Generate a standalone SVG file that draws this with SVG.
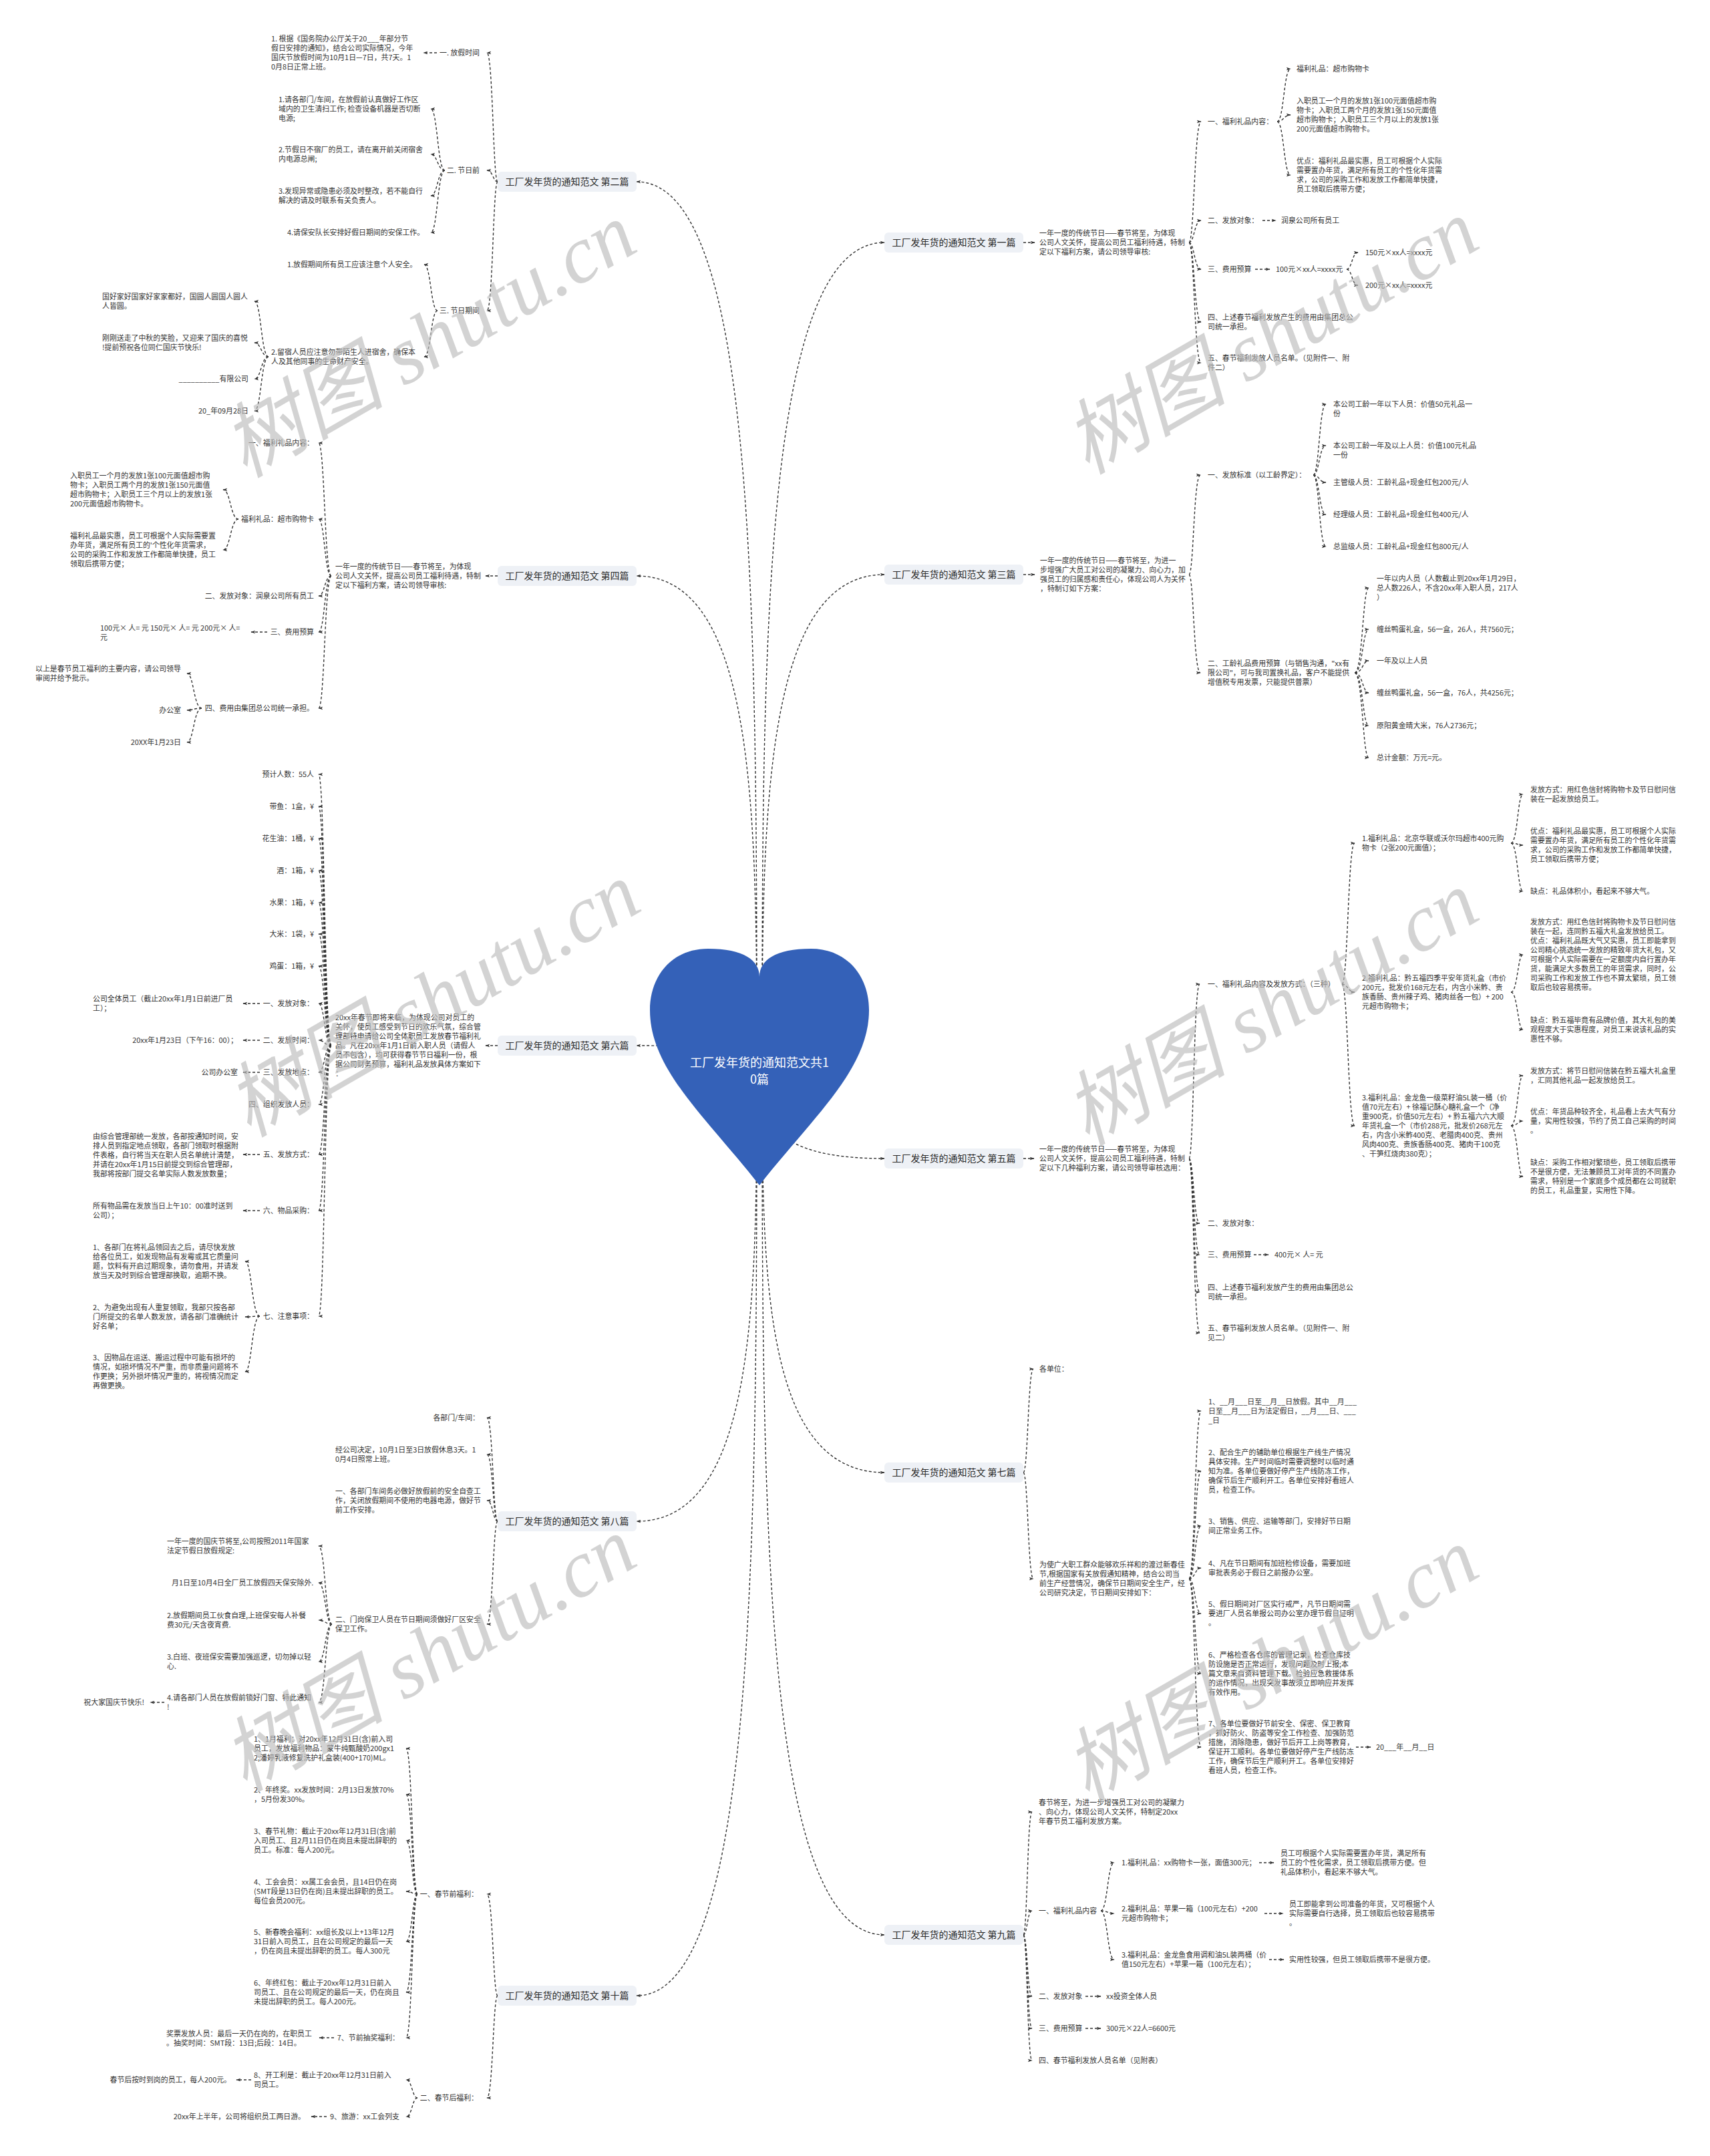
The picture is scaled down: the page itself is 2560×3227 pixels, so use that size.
<svg xmlns="http://www.w3.org/2000/svg" width="2560" height="3227" viewBox="0 0 2560 3227">
<style>
text{font-family:"Noto Sans CJK SC","Noto Sans",sans-serif;font-size:10.9px;fill:#333}
.e{text-anchor:end}
.h{font-size:14px;text-anchor:middle;fill:#2b2b2b}
.b{fill:#eef1f6}
.c{fill:none;stroke:#333;stroke-width:1.4;stroke-dasharray:4 3;marker-end:url(#a)}
.ht{font-size:18px;fill:#fff;text-anchor:middle}
.wm{font-family:"Liberation Serif","Noto Sans CJK SC",serif;font-style:italic;font-size:122px;fill:#bdbdbd;opacity:.65;text-anchor:middle}
</style>
<defs>
<marker id="a" viewBox="0 0 10 10" refX="9" refY="5" markerWidth="7" markerHeight="7" markerUnits="userSpaceOnUse" orient="auto"><path d="M0,1.5 L10,5 L0,8.5 L2.5,5 z" fill="#333"/></marker>
</defs>
<rect width="2560" height="3227" fill="#fff"/>
<g id="connectors">
<path class="c" d="M1133 1599C1133 935 1133 272 953 272"/>
<path class="c" d="M1133 1599C1133 1230 1133 862 953 862"/>
<path class="c" d="M1133 1599C1133 1582 1133 1565 953 1565"/>
<path class="c" d="M1133 1599C1133 1938 1133 2277 953 2277"/>
<path class="c" d="M1133 1599C1133 2293 1133 2987 953 2987"/>
<path class="c" d="M1141 1599C1141 981 1141 363 1324 363"/>
<path class="c" d="M1141 1599C1141 1230 1141 860 1324 860"/>
<path class="c" d="M1141 1599C1141 1666 1141 1734 1324 1734"/>
<path class="c" d="M1141 1599C1141 1901 1141 2204 1324 2204"/>
<path class="c" d="M1141 1599C1141 2247 1141 2896 1324 2896"/>
<path class="c" d="M745 272C738 272 738 79 729 79"/>
<path class="c" d="M745 272C738 272 738 255 729 255"/>
<path class="c" d="M745 272C738 272 738 465 729 465"/>
<path class="c" d="M654 79L634 79"/>
<path class="c" d="M666 255C655 255 655 163 645 163"/>
<path class="c" d="M666 255C655 255 655 231 645 231"/>
<path class="c" d="M666 255C655 255 655 293 645 293"/>
<path class="c" d="M666 255C655 255 655 348 645 348"/>
<path class="c" d="M655 465C645 465 645 396 635 396"/>
<path class="c" d="M655 465C645 465 645 534 635 534"/>
<path class="c" d="M402 534C391 534 391 451 381 451"/>
<path class="c" d="M402 534C391 534 391 513 381 513"/>
<path class="c" d="M402 534C391 534 391 567 381 567"/>
<path class="c" d="M402 534C391 534 391 615 381 615"/>
<path class="c" d="M745 862L727 862"/>
<path class="c" d="M496 862C486 862 486 663 477 663"/>
<path class="c" d="M496 862C486 862 486 777 477 777"/>
<path class="c" d="M496 862C486 862 486 892 477 892"/>
<path class="c" d="M496 862C486 862 486 946 477 946"/>
<path class="c" d="M496 862C486 862 486 1060 477 1060"/>
<path class="c" d="M357 777C345 777 345 733 334 733"/>
<path class="c" d="M357 777C345 777 345 823 334 823"/>
<path class="c" d="M400 946L376 946"/>
<path class="c" d="M302 1060C290 1060 290 1008 280 1008"/>
<path class="c" d="M302 1060C290 1060 290 1063 280 1063"/>
<path class="c" d="M302 1060C290 1060 290 1111 280 1111"/>
<path class="c" d="M745 1565L727 1565"/>
<path class="c" d="M496 1565C486 1565 486 1159 477 1159"/>
<path class="c" d="M496 1565C486 1565 486 1207 477 1207"/>
<path class="c" d="M496 1565C486 1565 486 1255 477 1255"/>
<path class="c" d="M496 1565C486 1565 486 1303 477 1303"/>
<path class="c" d="M496 1565C486 1565 486 1351 477 1351"/>
<path class="c" d="M496 1565C486 1565 486 1398 477 1398"/>
<path class="c" d="M496 1565C486 1565 486 1446 477 1446"/>
<path class="c" d="M496 1565C486 1565 486 1502 477 1502"/>
<path class="c" d="M496 1565C486 1565 486 1557 477 1557"/>
<path class="c" d="M496 1565C486 1565 486 1605 477 1605"/>
<path class="c" d="M496 1565C486 1565 486 1653 477 1653"/>
<path class="c" d="M496 1565C486 1565 486 1728 477 1728"/>
<path class="c" d="M496 1565C486 1565 486 1812 477 1812"/>
<path class="c" d="M496 1565C486 1565 486 1970 477 1970"/>
<path class="c" d="M389 1502L364 1502"/>
<path class="c" d="M389 1557L364 1557"/>
<path class="c" d="M389 1605L364 1605"/>
<path class="c" d="M389 1728L364 1728"/>
<path class="c" d="M389 1812L364 1812"/>
<path class="c" d="M389 1970C377 1970 377 1888 367 1888"/>
<path class="c" d="M389 1970C377 1970 377 1971 367 1971"/>
<path class="c" d="M389 1970C377 1970 377 2053 367 2053"/>
<path class="c" d="M745 2277C738 2277 738 2122 729 2122"/>
<path class="c" d="M745 2277C738 2277 738 2177 729 2177"/>
<path class="c" d="M745 2277C738 2277 738 2246 729 2246"/>
<path class="c" d="M745 2277C738 2277 738 2431 729 2431"/>
<path class="c" d="M497 2431C487 2431 487 2314 477 2314"/>
<path class="c" d="M497 2431C487 2431 487 2369 477 2369"/>
<path class="c" d="M497 2431C487 2431 487 2425 477 2425"/>
<path class="c" d="M497 2431C487 2431 487 2487 477 2487"/>
<path class="c" d="M497 2431C487 2431 487 2548 477 2548"/>
<path class="c" d="M246 2548L225 2548"/>
<path class="c" d="M745 2987C738 2987 738 2835 729 2835"/>
<path class="c" d="M745 2987C738 2987 738 3140 729 3140"/>
<path class="c" d="M625 2835C617 2835 617 2617 608 2617"/>
<path class="c" d="M625 2835C617 2835 617 2686 608 2686"/>
<path class="c" d="M625 2835C617 2835 617 2755 608 2755"/>
<path class="c" d="M625 2835C617 2835 617 2831 608 2831"/>
<path class="c" d="M625 2835C617 2835 617 2906 608 2906"/>
<path class="c" d="M625 2835C617 2835 617 2982 608 2982"/>
<path class="c" d="M625 2835C617 2835 617 3050 608 3050"/>
<path class="c" d="M500 3050L478 3050"/>
<path class="c" d="M625 3140C617 3140 617 3113 608 3113"/>
<path class="c" d="M625 3140C617 3140 617 3168 608 3168"/>
<path class="c" d="M376 3113L354 3113"/>
<path class="c" d="M489 3168L466 3168"/>
<path class="c" d="M1532 363L1549 363"/>
<path class="c" d="M1780 363C1788 363 1788 182 1798 182"/>
<path class="c" d="M1780 363C1788 363 1788 330 1798 330"/>
<path class="c" d="M1780 363C1788 363 1788 403 1798 403"/>
<path class="c" d="M1780 363C1788 363 1788 482 1798 482"/>
<path class="c" d="M1780 363C1788 363 1788 543 1798 543"/>
<path class="c" d="M1912 182C1922 182 1922 103 1932 103"/>
<path class="c" d="M1912 182C1922 182 1922 172 1932 172"/>
<path class="c" d="M1912 182C1922 182 1922 262 1932 262"/>
<path class="c" d="M1890 330L1910 330"/>
<path class="c" d="M1879 403L1901 403"/>
<path class="c" d="M2016 403C2024 403 2024 378 2033 378"/>
<path class="c" d="M2016 403C2024 403 2024 427 2033 427"/>
<path class="c" d="M1532 860L1549 860"/>
<path class="c" d="M1780 860C1787 860 1787 711 1797 711"/>
<path class="c" d="M1780 860C1787 860 1787 1007 1797 1007"/>
<path class="c" d="M1966 711C1975 711 1975 605 1985 605"/>
<path class="c" d="M1966 711C1975 711 1975 667 1985 667"/>
<path class="c" d="M1966 711C1975 711 1975 722 1985 722"/>
<path class="c" d="M1966 711C1975 711 1975 770 1985 770"/>
<path class="c" d="M1966 711C1975 711 1975 818 1985 818"/>
<path class="c" d="M2028 1007C2040 1007 2040 880 2049 880"/>
<path class="c" d="M2028 1007C2040 1007 2040 942 2049 942"/>
<path class="c" d="M2028 1007C2040 1007 2040 989 2049 989"/>
<path class="c" d="M2028 1007C2040 1007 2040 1037 2049 1037"/>
<path class="c" d="M2028 1007C2040 1007 2040 1086 2049 1086"/>
<path class="c" d="M2028 1007C2040 1007 2040 1134 2049 1134"/>
<path class="c" d="M1532 1734L1548 1734"/>
<path class="c" d="M1780 1734C1787 1734 1787 1473 1796 1473"/>
<path class="c" d="M1780 1734C1787 1734 1787 1831 1796 1831"/>
<path class="c" d="M1780 1734C1787 1734 1787 1878 1796 1878"/>
<path class="c" d="M1780 1734C1787 1734 1787 1934 1796 1934"/>
<path class="c" d="M1780 1734C1787 1734 1787 1995 1796 1995"/>
<path class="c" d="M1877 1878L1899 1878"/>
<path class="c" d="M2009 1473C2018 1473 2018 1262 2028 1262"/>
<path class="c" d="M2009 1473C2018 1473 2018 1485 2028 1485"/>
<path class="c" d="M2009 1473C2018 1473 2018 1685 2028 1685"/>
<path class="c" d="M2262 1262C2272 1262 2272 1189 2280 1189"/>
<path class="c" d="M2262 1262C2272 1262 2272 1265 2280 1265"/>
<path class="c" d="M2262 1262C2272 1262 2272 1334 2280 1334"/>
<path class="c" d="M2262 1485C2272 1485 2272 1429 2280 1429"/>
<path class="c" d="M2262 1485C2272 1485 2272 1541 2280 1541"/>
<path class="c" d="M2262 1685C2272 1685 2272 1610 2280 1610"/>
<path class="c" d="M2262 1685C2272 1685 2272 1678 2280 1678"/>
<path class="c" d="M2262 1685C2272 1685 2272 1761 2280 1761"/>
<path class="c" d="M1532 2204C1539 2204 1539 2049 1547 2049"/>
<path class="c" d="M1532 2204C1539 2204 1539 2363 1547 2363"/>
<path class="c" d="M1780 2363C1789 2363 1789 2112 1798 2112"/>
<path class="c" d="M1780 2363C1789 2363 1789 2202 1798 2202"/>
<path class="c" d="M1780 2363C1789 2363 1789 2284 1798 2284"/>
<path class="c" d="M1780 2363C1789 2363 1789 2347 1798 2347"/>
<path class="c" d="M1780 2363C1789 2363 1789 2415 1798 2415"/>
<path class="c" d="M1780 2363C1789 2363 1789 2505 1798 2505"/>
<path class="c" d="M1780 2363C1789 2363 1789 2615 1798 2615"/>
<path class="c" d="M2030 2615L2052 2615"/>
<path class="c" d="M1532 2896C1538 2896 1538 2712 1545 2712"/>
<path class="c" d="M1532 2896C1538 2896 1538 2860 1545 2860"/>
<path class="c" d="M1532 2896C1538 2896 1538 2988 1545 2988"/>
<path class="c" d="M1532 2896C1538 2896 1538 3036 1545 3036"/>
<path class="c" d="M1532 2896C1538 2896 1538 3084 1545 3084"/>
<path class="c" d="M1648 2860C1658 2860 1658 2788 1668 2788"/>
<path class="c" d="M1648 2860C1658 2860 1658 2864 1668 2864"/>
<path class="c" d="M1648 2860C1658 2860 1658 2933 1668 2933"/>
<path class="c" d="M1885 2788L1907 2788"/>
<path class="c" d="M1893 2864L1921 2864"/>
<path class="c" d="M1900 2933L1922 2933"/>
<path class="c" d="M1625 2988L1648 2988"/>
<path class="c" d="M1625 3036L1648 3036"/>
</g>
<g id="root">
<path d="M1137 1462C1137 1437 1113 1420 1060 1420C1005 1420 973 1462 973 1512C973 1600 1055 1670 1137 1774C1219 1670 1301 1600 1301 1512C1301 1462 1269 1420 1214 1420C1161 1420 1137 1437 1137 1462Z" fill="#3461b8"/>
<text class="ht"><tspan x="1137" y="1597">工厂发年货的通知范文共1</tspan><tspan x="1137" y="1622">0篇</tspan></text>
</g>
<g id="n2">
<rect class="b" x="745" y="257" width="208" height="30" rx="6"/>
<text class="h" x="849" y="277">工厂发年货的通知范文 第二篇</text>
<text class="e" x="718" y="83">一. 放假时间</text>
<text><tspan x="406" y="62">1. 根据《国务院办公厅关于20___年部分节</tspan><tspan x="406" y="76">假日安排的通知》，结合公司实际情况，今年</tspan><tspan x="406" y="90">国庆节放假时间为10月1日—7日，共7天。1</tspan><tspan x="406" y="104">0月8日正常上班。</tspan></text>
<text class="e" x="718" y="259">二. 节日前</text>
<text><tspan x="417" y="153">1.请各部门/车间，在放假前认真做好工作区</tspan><tspan x="417" y="167">域内的卫生清扫工作; 检查设备机器是否切断</tspan><tspan x="417" y="181">电源;</tspan></text>
<text><tspan x="417" y="228">2.节假日不宿厂的员工，请在离开前关闭宿舍</tspan><tspan x="417" y="242">内电源总闸;</tspan></text>
<text><tspan x="417" y="290">3.发现异常或隐患必须及时整改，若不能自行</tspan><tspan x="417" y="304">解决的请及时联系有关负责人。</tspan></text>
<text x="430" y="352">4.请保安队长安排好假日期间的安保工作。</text>
<text class="e" x="718" y="469">三. 节日期间</text>
<text x="430" y="400">1.放假期间所有员工应该注意个人安全。</text>
<text><tspan x="406" y="531">2.留宿人员应注意勿带陌生人进宿舍，确保本</tspan><tspan x="406" y="545">人及其他同事的生命财产安全。</tspan></text>
<text><tspan x="153" y="448">国好家好国家好家家都好，国圆人圆国人圆人</tspan><tspan x="153" y="462">人皆圆。</tspan></text>
<text><tspan x="153" y="510">刚刚送走了中秋的笑脸，又迎来了国庆的喜悦</tspan><tspan x="153" y="524">!提前预祝各位同仁国庆节快乐!</tspan></text>
<text class="e" x="372" y="571">__________有限公司</text>
<text class="e" x="372" y="619">20_年09月28日</text>
</g>
<g id="n4">
<rect class="b" x="745" y="847" width="208" height="30" rx="6"/>
<text class="h" x="849" y="867">工厂发年货的通知范文 第四篇</text>
<text><tspan x="502" y="852">一年一度的传统节日——春节将至，为体现</tspan><tspan x="502" y="866">公司人文关怀，提高公司员工福利待遇，特制</tspan><tspan x="502" y="880">定以下福利方案，请公司领导审核:</tspan></text>
<text class="e" x="470" y="667">一、福利礼品内容：</text>
<text class="e" x="470" y="781">福利礼品：超市购物卡</text>
<text class="e" x="470" y="896">二、发放对象：润泉公司所有员工</text>
<text class="e" x="470" y="950">三、费用预算</text>
<text class="e" x="470" y="1064">四、费用由集团总公司统一承担。</text>
<text><tspan x="105" y="716">入职员工一个月的发放1张100元面值超市购</tspan><tspan x="105" y="730">物卡；入职员工两个月的发放1张150元面值</tspan><tspan x="105" y="744">超市购物卡；入职员工三个月以上的发放1张</tspan><tspan x="105" y="758">200元面值超市购物卡。</tspan></text>
<text><tspan x="105" y="806">福利礼品最实惠，员工可根据个人实际需要置</tspan><tspan x="105" y="820">办年货，满足所有员工的'个性化年货需求，</tspan><tspan x="105" y="834">公司的采购工作和发放工作都简单快捷，员工</tspan><tspan x="105" y="848">领取后携带方便；</tspan></text>
<text><tspan x="150" y="944">100元× 人= 元 150元× 人= 元 200元× 人=</tspan><tspan x="150" y="958">元</tspan></text>
<text><tspan x="53" y="1005">以上是春节员工福利的主要内容，请公司领导</tspan><tspan x="53" y="1019">审阅并给予批示。</tspan></text>
<text class="e" x="271" y="1067">办公室</text>
<text class="e" x="271" y="1115">20XX年1月23日</text>
</g>
<g id="n6">
<rect class="b" x="745" y="1550" width="208" height="30" rx="6"/>
<text class="h" x="849" y="1570">工厂发年货的通知范文 第六篇</text>
<text><tspan x="502" y="1527">20xx年春节即将来临，为体现公司对员工的</tspan><tspan x="502" y="1541">关怀，使员工感受到节日的欢乐气氛，综合管</tspan><tspan x="502" y="1555">理部特申请给公司全体职员工发放春节福利礼</tspan><tspan x="502" y="1569">品。凡在20xx年1月1日前入职人员（请假人</tspan><tspan x="502" y="1583">员不包含），均可获得春节节日福利一份，根</tspan><tspan x="502" y="1597">据公司财务预算，福利礼品发放具体方案如下</tspan><tspan x="502" y="1611">：</tspan></text>
<text class="e" x="470" y="1163">预计人数：55人</text>
<text class="e" x="470" y="1211">带鱼：1盒，¥</text>
<text class="e" x="470" y="1259">花生油：1桶，¥</text>
<text class="e" x="470" y="1307">酒：1箱，¥</text>
<text class="e" x="470" y="1355">水果：1箱，¥</text>
<text class="e" x="470" y="1402">大米：1袋，¥</text>
<text class="e" x="470" y="1450">鸡蛋：1箱，¥</text>
<text class="e" x="470" y="1506">一、发放对象：</text>
<text class="e" x="470" y="1561">二、发放时间：</text>
<text class="e" x="470" y="1609">三、发放地点：</text>
<text class="e" x="470" y="1657">四、组织发放人员：</text>
<text class="e" x="470" y="1732">五、发放方式：</text>
<text class="e" x="470" y="1816">六、物品采购：</text>
<text class="e" x="470" y="1974">七、注意事项：</text>
<text><tspan x="139" y="1499">公司全体员工（截止20xx年1月1日前进厂员</tspan><tspan x="139" y="1513">工）；</tspan></text>
<text class="e" x="356" y="1561">20xx年1月23日（下午16：00）；</text>
<text class="e" x="356" y="1609">公司办公室</text>
<text><tspan x="139" y="1705">由综合管理部统一发放，各部按通知时间，安</tspan><tspan x="139" y="1719">排人员到指定地点领取，各部门领取时根据附</tspan><tspan x="139" y="1733">件表格，自行将当天在职人员名单统计清楚，</tspan><tspan x="139" y="1747">并请在20xx年1月15日前提交到综合管理部，</tspan><tspan x="139" y="1761">我部将按部门提交名单实际人数发放数量；</tspan></text>
<text><tspan x="139" y="1809">所有物品需在发放当日上午10：00准时送到</tspan><tspan x="139" y="1823">公司）；</tspan></text>
<text><tspan x="139" y="1871">1、各部门在将礼品领回去之后，请尽快发放</tspan><tspan x="139" y="1885">给各位员工，如发现物品有发霉或其它质量问</tspan><tspan x="139" y="1899">题，饮料有开启过期现象，请勿食用，并请发</tspan><tspan x="139" y="1913">放当天及时到综合管理部换取，逾期不换。</tspan></text>
<text><tspan x="139" y="1961">2、为避免出现有人重复领取，我部只按各部</tspan><tspan x="139" y="1975">门所提交的名单人数发放，请各部门准确统计</tspan><tspan x="139" y="1989">好名单；</tspan></text>
<text><tspan x="139" y="2036">3、因物品在运送、搬运过程中可能有损坏的</tspan><tspan x="139" y="2050">情况，如损坏情况不严重，而非质量问题将不</tspan><tspan x="139" y="2064">作更换；另外损坏情况严重的，将视情况而定</tspan><tspan x="139" y="2078">再做更换。</tspan></text>
</g>
<g id="n8">
<rect class="b" x="745" y="2262" width="208" height="30" rx="6"/>
<text class="h" x="849" y="2282">工厂发年货的通知范文 第八篇</text>
<text class="e" x="718" y="2126">各部门/车间：</text>
<text><tspan x="502" y="2174">经公司决定，10月1日至3日放假休息3天。1</tspan><tspan x="502" y="2188">0月4日照常上班。</tspan></text>
<text><tspan x="502" y="2236">一、各部门车间务必做好放假前的安全自查工</tspan><tspan x="502" y="2250">作，关闭放假期间不使用的电器电源，做好节</tspan><tspan x="502" y="2264">前工作安排。</tspan></text>
<text><tspan x="502" y="2428">二、门岗保卫人员在节日期间须做好厂区安全</tspan><tspan x="502" y="2442">保卫工作。</tspan></text>
<text><tspan x="250" y="2311">一年一度的国庆节将至,公司按照2011年国家</tspan><tspan x="250" y="2325">法定节假日放假规定:</tspan></text>
<text x="257" y="2373">月1日至10月4日全厂员工放假四天保安除外.</text>
<text><tspan x="250" y="2422">2.放假期间员工伙食自理,上班保安每人补餐</tspan><tspan x="250" y="2436">费30元/天含夜宵费.</tspan></text>
<text><tspan x="250" y="2484">3.白班、夜班保安需要加强巡逻，切勿掉以轻</tspan><tspan x="250" y="2498">心.</tspan></text>
<text><tspan x="250" y="2545">4.请各部门人员在放假前锁好门窗、特此通知</tspan><tspan x="250" y="2559">!</tspan></text>
<text class="e" x="216" y="2552">祝大家国庆节快乐!</text>
</g>
<g id="n10">
<rect class="b" x="745" y="2972" width="208" height="30" rx="6"/>
<text class="h" x="849" y="2992">工厂发年货的通知范文 第十篇</text>
<text class="e" x="716" y="2839">一、春节前福利：</text>
<text class="e" x="716" y="3144">二、春节后福利：</text>
<text><tspan x="380" y="2607">1、1月福利：对20xx年12月31日(含)前入司</tspan><tspan x="380" y="2621">员工，发放福利物品：蒙牛纯甄酸奶200gx1</tspan><tspan x="380" y="2635">2;潘婷乳液修复洗护礼盒装(400+170)ML。</tspan></text>
<text><tspan x="380" y="2683">2、年终奖。xx发放时间：2月13日发放70%</tspan><tspan x="380" y="2697">，5月份发30%。</tspan></text>
<text><tspan x="380" y="2745">3、春节礼物：截止于20xx年12月31日(含)前</tspan><tspan x="380" y="2759">入司员工、且2月11日仍在岗且未提出辞职的</tspan><tspan x="380" y="2773">员工。标准：每人200元。</tspan></text>
<text><tspan x="380" y="2821">4、工会会员：xx属工会会员，且14日仍在岗</tspan><tspan x="380" y="2835">(SMT段是13日仍在岗)且未提出辞职的员工。</tspan><tspan x="380" y="2849">每位会员200元。</tspan></text>
<text><tspan x="380" y="2896">5、新春晚会福利：xx组长及以上+13年12月</tspan><tspan x="380" y="2910">31日前入司员工，且在公司规定的最后一天</tspan><tspan x="380" y="2924">，仍在岗且未提出辞职的员工。每人300元</tspan></text>
<text><tspan x="380" y="2972">6、年终红包：截止于20xx年12月31日前入</tspan><tspan x="380" y="2986">司员工、且在公司规定的最后一天，仍在岗且</tspan><tspan x="380" y="3000">未提出辞职的员工。每人200元。</tspan></text>
<text class="e" x="598" y="3054">7、节前抽奖福利：</text>
<text><tspan x="249" y="3048">奖票发放人员：最后一天仍在岗的，在职员工</tspan><tspan x="249" y="3062">。抽奖时间：SMT段：13日;后段：14日。</tspan></text>
<text><tspan x="380" y="3110">8、开工利是：截止于20xx年12月31日前入</tspan><tspan x="380" y="3124">司员工。</tspan></text>
<text class="e" x="598" y="3172">9、旅游：xx工会列支</text>
<text class="e" x="346" y="3117">春节后按时到岗的员工，每人200元。</text>
<text class="e" x="457" y="3172">20xx年上半年，公司将组织员工两日游。</text>
</g>
<g id="n1">
<rect class="b" x="1324" y="348" width="208" height="30" rx="6"/>
<text class="h" x="1428" y="368">工厂发年货的通知范文 第一篇</text>
<text><tspan x="1556" y="353">一年一度的传统节日——春节将至，为体现</tspan><tspan x="1556" y="367">公司人文关怀，提高公司员工福利待遇，特制</tspan><tspan x="1556" y="381">定以下福利方案，请公司领导审核:</tspan></text>
<text x="1808" y="186">一、福利礼品内容：</text>
<text x="1808" y="334">二、发放对象：</text>
<text x="1808" y="407">三、费用预算</text>
<text><tspan x="1808" y="479">四、上述春节福利发放产生的费用由集团总公</tspan><tspan x="1808" y="493">司统一承担。</tspan></text>
<text><tspan x="1808" y="540">五、春节福利发放人员名单。（见附件一、附</tspan><tspan x="1808" y="554">件二）</tspan></text>
<text x="1941" y="107">福利礼品：超市购物卡</text>
<text><tspan x="1941" y="155">入职员工一个月的发放1张100元面值超市购</tspan><tspan x="1941" y="169">物卡；入职员工两个月的发放1张150元面值</tspan><tspan x="1941" y="183">超市购物卡；入职员工三个月以上的发放1张</tspan><tspan x="1941" y="197">200元面值超市购物卡。</tspan></text>
<text><tspan x="1941" y="245">优点：福利礼品最实惠，员工可根据个人实际</tspan><tspan x="1941" y="259">需要置办年货，满足所有员工的个性化年货需</tspan><tspan x="1941" y="273">求，公司的采购工作和发放工作都简单快捷，</tspan><tspan x="1941" y="287">员工领取后携带方便；</tspan></text>
<text x="1918" y="334">润泉公司所有员工</text>
<text x="1910" y="407">100元×xx人=xxxx元</text>
<text x="2044" y="382">150元×xx人=xxxx元</text>
<text x="2044" y="431">200元×xx人=xxxx元</text>
</g>
<g id="n3">
<rect class="b" x="1324" y="845" width="208" height="30" rx="6"/>
<text class="h" x="1428" y="865">工厂发年货的通知范文 第三篇</text>
<text><tspan x="1557" y="843">一年一度的传统节日——春节将至，为进一</tspan><tspan x="1557" y="857">步增强广大员工对公司的凝聚力、向心力，加</tspan><tspan x="1557" y="871">强员工的归属感和责任心，体现公司人为关怀</tspan><tspan x="1557" y="885">，特制订如下方案：</tspan></text>
<text x="1808" y="715">一、发放标准（以工龄界定）：</text>
<text><tspan x="1808" y="997">二、工龄礼品费用预算（与销售沟通，"xx有</tspan><tspan x="1808" y="1011">限公司"，可与我司置换礼品，客户不能提供</tspan><tspan x="1808" y="1025">增值税专用发票，只能提供普票）</tspan></text>
<text><tspan x="1996" y="609">本公司工龄一年以下人员：价值50元礼品一</tspan><tspan x="1996" y="623">份</tspan></text>
<text><tspan x="1996" y="671">本公司工龄一年及以上人员：价值100元礼品</tspan><tspan x="1996" y="685">一份</tspan></text>
<text x="1996" y="726">主管级人员：工龄礼品+现金红包200元/人</text>
<text x="1996" y="774">经理级人员：工龄礼品+现金红包400元/人</text>
<text x="1996" y="822">总监级人员：工龄礼品+现金红包800元/人</text>
<text><tspan x="2061" y="870">一年以内人员（人数截止到20xx年1月29日，</tspan><tspan x="2061" y="884">总人数226人，不含20xx年入职人员，217人</tspan><tspan x="2061" y="898">）</tspan></text>
<text x="2061" y="946">缠丝鸭蛋礼盒，56一盒，26人，共7560元；</text>
<text x="2061" y="993">一年及以上人员</text>
<text x="2061" y="1041">缠丝鸭蛋礼盒，56一盒，76人，共4256元；</text>
<text x="2061" y="1090">原阳黄金晴大米，76人2736元；</text>
<text x="2061" y="1138">总计金额：万元=元。</text>
</g>
<g id="n5">
<rect class="b" x="1324" y="1719" width="208" height="30" rx="6"/>
<text class="h" x="1428" y="1739">工厂发年货的通知范文 第五篇</text>
<text><tspan x="1556" y="1724">一年一度的传统节日——春节将至，为体现</tspan><tspan x="1556" y="1738">公司人文关怀，提高公司员工福利待遇，特制</tspan><tspan x="1556" y="1752">定以下几种福利方案，请公司领导审核选用：</tspan></text>
<text x="1808" y="1477">一、福利礼品内容及发放方式：（三种）</text>
<text x="1808" y="1835">二、发放对象：</text>
<text x="1808" y="1882">三、费用预算</text>
<text x="1908" y="1882">400元× 人= 元</text>
<text><tspan x="1808" y="1931">四、上述春节福利发放产生的费用由集团总公</tspan><tspan x="1808" y="1945">司统一承担。</tspan></text>
<text><tspan x="1808" y="1992">五、春节福利发放人员名单。（见附件一、附</tspan><tspan x="1808" y="2006">见二）</tspan></text>
<text><tspan x="2039" y="1259">1.福利礼品：北京华联或沃尔玛超市400元购</tspan><tspan x="2039" y="1273">物卡（2张200元面值）；</tspan></text>
<text><tspan x="2039" y="1468">2.福利礼品：黔五福四季平安年货礼盒（市价</tspan><tspan x="2039" y="1482">200元，批发价168元左右，内含小米鲊、贵</tspan><tspan x="2039" y="1496">族香肠、贵州辣子鸡、猪肉丝各一包）+ 200</tspan><tspan x="2039" y="1510">元超市购物卡；</tspan></text>
<text><tspan x="2039" y="1647">3.福利礼品：金龙鱼一级菜籽油5L装一桶（价</tspan><tspan x="2039" y="1661">值70元左右）+ 徐福记酥心糖礼盒一个（净</tspan><tspan x="2039" y="1675">重900克，价值50元左右）+ 黔五福六六大顺</tspan><tspan x="2039" y="1689">年货礼盒一个（市价288元，批发价268元左</tspan><tspan x="2039" y="1703">右，内含小米鲊400克、老腊肉400克、贵州</tspan><tspan x="2039" y="1717">风肉400克、贵族香肠400克、猪肉干100克</tspan><tspan x="2039" y="1731">、干笋红烧肉380克）；</tspan></text>
<text><tspan x="2291" y="1186">发放方式：用红色信封将购物卡及节日慰问信</tspan><tspan x="2291" y="1200">装在一起发放给员工。</tspan></text>
<text><tspan x="2291" y="1248">优点：福利礼品最实惠，员工可根据个人实际</tspan><tspan x="2291" y="1262">需要置办年货，满足所有员工的个性化年货需</tspan><tspan x="2291" y="1276">求，公司的采购工作和发放工作都简单快捷，</tspan><tspan x="2291" y="1290">员工领取后携带方便；</tspan></text>
<text x="2291" y="1338">缺点：礼品体积小，看起来不够大气。</text>
<text><tspan x="2291" y="1384">发放方式：用红色信封将购物卡及节日慰问信</tspan><tspan x="2291" y="1398">装在一起，连同黔五福大礼盒发放给员工。</tspan><tspan x="2291" y="1412">优点：福利礼品既大气又实惠，员工即能拿到</tspan><tspan x="2291" y="1426">公司精心挑选统一发放的精致年货大礼包，又</tspan><tspan x="2291" y="1440">可根据个人实际需要在一定额度内自行置办年</tspan><tspan x="2291" y="1454">货，能满足大多数员工的年货需求，同时，公</tspan><tspan x="2291" y="1468">司采购工作和发放工作也不算太繁琐，员工领</tspan><tspan x="2291" y="1482">取后也较容易携带。</tspan></text>
<text><tspan x="2291" y="1531">缺点：黔五福毕竟有品牌价值，其大礼包的美</tspan><tspan x="2291" y="1545">观程度大于实惠程度，对员工来说该礼品的实</tspan><tspan x="2291" y="1559">惠性不够。</tspan></text>
<text><tspan x="2291" y="1607">发放方式：将节日慰问信装在黔五福大礼盒里</tspan><tspan x="2291" y="1621">，汇同其他礼品一起发放给员工。</tspan></text>
<text><tspan x="2291" y="1668">优点：年货品种较齐全，礼品看上去大气有分</tspan><tspan x="2291" y="1682">量，实用性较强，节约了员工自己采购的时间</tspan><tspan x="2291" y="1696">。</tspan></text>
<text><tspan x="2291" y="1744">缺点：采购工作相对繁琐些，员工领取后携带</tspan><tspan x="2291" y="1758">不是很方便，无法兼顾员工对年货的不同置办</tspan><tspan x="2291" y="1772">需求，特别是一个家庭多个成员都在公司就职</tspan><tspan x="2291" y="1786">的员工，礼品重复，实用性下降。</tspan></text>
</g>
<g id="n7">
<rect class="b" x="1324" y="2189" width="208" height="30" rx="6"/>
<text class="h" x="1428" y="2209">工厂发年货的通知范文 第七篇</text>
<text x="1556" y="2053">各单位：</text>
<text><tspan x="1556" y="2346">为使广大职工群众能够欢乐祥和的渡过新春佳</tspan><tspan x="1556" y="2360">节,根据国家有关放假通知精神，结合公司当</tspan><tspan x="1556" y="2374">前生产经营情况，确保节日期间安全生产，经</tspan><tspan x="1556" y="2388">公司研究决定，节日期间安排如下：</tspan></text>
<text><tspan x="1809" y="2102">1、__月___日至__月__日放假。其中__月___</tspan><tspan x="1809" y="2116">日至__月___日为法定假日，__月___日、___</tspan><tspan x="1809" y="2130">_日</tspan></text>
<text><tspan x="1809" y="2178">2、配合生产的辅助单位根据生产线生产情况</tspan><tspan x="1809" y="2192">具体安排。生产时间临时需要调整时以临时通</tspan><tspan x="1809" y="2206">知为准。各单位要做好停产生产线防冻工作，</tspan><tspan x="1809" y="2220">确保节后生产顺利开工。各单位安排好看班人</tspan><tspan x="1809" y="2234">员，检查工作。</tspan></text>
<text><tspan x="1809" y="2281">3、销售、供应、运输等部门，安排好节日期</tspan><tspan x="1809" y="2295">间正常业务工作。</tspan></text>
<text><tspan x="1809" y="2344">4、凡在节日期间有加班检修设备，需要加班</tspan><tspan x="1809" y="2358">审批表务必于假日之前报办公室。</tspan></text>
<text><tspan x="1809" y="2405">5、假日期间对厂区实行戒严，凡节日期间需</tspan><tspan x="1809" y="2419">要进厂人员名单报公司办公室办理节假日证明</tspan><tspan x="1809" y="2433">。</tspan></text>
<text><tspan x="1809" y="2481">6、严格检查各仓库的管理记录，检查仓库技</tspan><tspan x="1809" y="2495">防设施是否正常运行，发现问题及时上报;本</tspan><tspan x="1809" y="2509">篇文章来自资料管理下载。检验应急救援体系</tspan><tspan x="1809" y="2523">的运作情况，出现突发事故须立即响应并发挥</tspan><tspan x="1809" y="2537">有效作用。</tspan></text>
<text><tspan x="1809" y="2584">7、各单位要做好节前安全、保密、保卫教育</tspan><tspan x="1809" y="2598">，抓好防火、防盗等安全工作检查、加强防范</tspan><tspan x="1809" y="2612">措施，消除隐患，做好节后开工上岗等教育，</tspan><tspan x="1809" y="2626">保证开工顺利。各单位要做好停产生产线防冻</tspan><tspan x="1809" y="2640">工作，确保节后生产顺利开工。各单位安排好</tspan><tspan x="1809" y="2654">看班人员，检查工作。</tspan></text>
<text x="2060" y="2619">20___年__月__日</text>
</g>
<g id="n9">
<rect class="b" x="1324" y="2881" width="208" height="30" rx="6"/>
<text class="h" x="1428" y="2901">工厂发年货的通知范文 第九篇</text>
<text><tspan x="1555" y="2702">春节将至，为进一步增强员工对公司的凝聚力</tspan><tspan x="1555" y="2716">、向心力，体现公司人文关怀，特制定20xx</tspan><tspan x="1555" y="2730">年春节员工福利发放方案。</tspan></text>
<text x="1555" y="2864">一、福利礼品内容</text>
<text x="1555" y="2992">二、发放对象</text>
<text x="1555" y="3040">三、费用预算</text>
<text x="1555" y="3088">四、春节福利发放人员名单（见附表）</text>
<text x="1679" y="2792">1.福利礼品：xx购物卡一张，面值300元；</text>
<text><tspan x="1679" y="2861">2.福利礼品：苹果一箱（100元左右）+200</tspan><tspan x="1679" y="2875">元超市购物卡；</tspan></text>
<text><tspan x="1679" y="2930">3.福利礼品：金龙鱼食用调和油5L装两桶（价</tspan><tspan x="1679" y="2944">值150元左右）+苹果一箱（100元左右）；</tspan></text>
<text><tspan x="1917" y="2778">员工可根据个人实际需要置办年货，满足所有</tspan><tspan x="1917" y="2792">员工的个性化需求，员工领取后携带方便。但</tspan><tspan x="1917" y="2806">礼品体积小，看起来不够大气。</tspan></text>
<text><tspan x="1930" y="2854">员工即能拿到公司准备的年货，又可根据个人</tspan><tspan x="1930" y="2868">实际需要自行选择，员工领取后也较容易携带</tspan><tspan x="1930" y="2882">。</tspan></text>
<text x="1930" y="2937">实用性较强，但员工领取后携带不是很方便。</text>
<text x="1656" y="2992">xx投资全体人员</text>
<text x="1656" y="3040">300元×22人=6600元</text>
</g>
<g id="watermarks">
<text class="wm" x="663" y="545" transform="rotate(-30 663 545)">树图 shutu.cn</text>
<text class="wm" x="1924" y="540" transform="rotate(-30 1924 540)">树图 shutu.cn</text>
<text class="wm" x="669" y="1532" transform="rotate(-30 669 1532)">树图 shutu.cn</text>
<text class="wm" x="1924" y="1545" transform="rotate(-30 1924 1545)">树图 shutu.cn</text>
<text class="wm" x="663" y="2512" transform="rotate(-30 663 2512)">树图 shutu.cn</text>
<text class="wm" x="1924" y="2528" transform="rotate(-30 1924 2528)">树图 shutu.cn</text>
</g>
</svg>
